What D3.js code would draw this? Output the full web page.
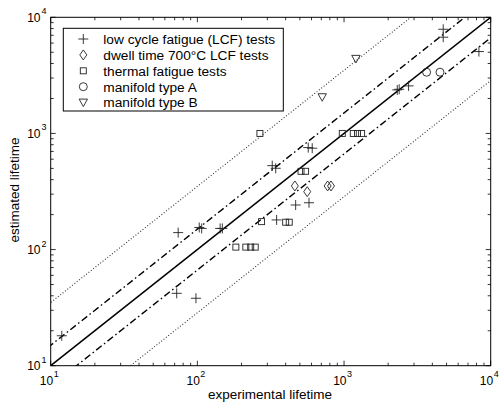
<!DOCTYPE html>
<html><head><meta charset="utf-8">
<script src="https://cdn.jsdelivr.net/npm/d3@7"></script>
<style>
body{margin:0;background:#fff;}
svg{display:block;font-family:"Liberation Sans",Arial,Helvetica,sans-serif;}
</style></head>
<body>
<svg id="chart" width="499" height="405"></svg>
<script>
// data (experimental lifetime, estimated lifetime)
const lcfExp  = [11.9, 72.3, 97.8, 74, 103, 107, 143, 148, 324, 342, 570, 607, 468, 577, 347, 2306, 2378, 2755, 4745, 4745, 8310];
const lcfEst  = [18.1, 42, 38.1, 140, 155, 152, 152, 152, 528, 501, 755, 746, 242, 253, 180, 2371, 2400, 2566, 7890, 6740, 5070];
const dwellExp = [462, 561, 773, 815];
const dwellEst = [353, 315, 353, 353];
const thermExp = [274, 183, 214, 231, 248, 267, 973, 1156, 1236, 1318, 509, 547, 400, 423];
const thermEst = [174, 105, 105, 105, 105, 1000, 1000, 1000, 1000, 1000, 472, 472, 172, 172];
const manAExp = [3656, 4510];
const manAEst = [3366, 3366];
const manBExp = [710, 1205];
const manBEst = [2050, 4385];
const legendLabels = ["low cycle fatigue (LCF) tests", "dwell time 700\u00b0C LCF tests", "thermal fatigue tests", "manifold type A", "manifold type B"];
const decadeExps = [1, 2, 3, 4];
const bandFactors = [1.5, 3.5];
const xLabel = "experimental lifetime";
const yLabel = "estimated lifetime";

const svg = d3.select("#chart");
const L = 50.7, R = 490.7, T = 17.3, B = 365.7;
const x = d3.scaleLog().domain([10, 10000]).range([L, R]);
const y = d3.scaleLog().domain([10, 10000]).range([B, T]);

const defs = svg.append("defs");
defs.append("clipPath").attr("id", "clip").append("rect")
  .attr("x", L).attr("y", T).attr("width", R - L).attr("height", B - T);

const g = svg.append("g").attr("clip-path", "url(#clip)");

// reference lines
function refLine(f, dash, w, col) {
  const d0 = 10 / Math.max(f, 1) , d1 = 10000 * Math.max(f, 1);
  g.append("line")
    .attr("x1", x(d0)).attr("y1", y(d0 * f))
    .attr("x2", x(d1)).attr("y2", y(d1 * f))
    .attr("stroke", col).attr("stroke-width", w)
    .attr("stroke-dasharray", dash).attr("fill", "none");
}
refLine(1, null, 1.5, "#000");
refLine(bandFactors[0], "7,3,1.5,3", 1.4, "#000");
refLine(1 / bandFactors[0], "7,3,1.5,3", 1.4, "#000");
refLine(bandFactors[1], "1,2", 1.1, "#333");
refLine(1 / bandFactors[1], "1,2", 1.1, "#333");

// axes box
svg.append("rect").attr("x", L).attr("y", T).attr("width", R - L).attr("height", B - T)
  .attr("fill", "none").attr("stroke", "#000").attr("stroke-width", 1);

// ticks inside on all sides
const majorLen = 5, minorLen = 3;
const tickG = svg.append("g").attr("stroke", "#000").attr("stroke-width", 0.8);
const ticks = [];
for (let e = 1; e <= 4; e++) {
  for (let m = 1; m <= 9; m++) {
    const v = m * Math.pow(10, e);
    if (v > 10000) break;
    ticks.push({v, major: m === 1});
  }
}
ticks.forEach(t => {
  const len = t.major ? majorLen : minorLen;
  const px = x(t.v), py = y(t.v);
  tickG.append("line").attr("x1", px).attr("x2", px).attr("y1", B).attr("y2", B - len);
  tickG.append("line").attr("x1", px).attr("x2", px).attr("y1", T).attr("y2", T + len);
  tickG.append("line").attr("y1", py).attr("y2", py).attr("x1", L).attr("x2", L + len);
  tickG.append("line").attr("y1", py).attr("y2", py).attr("x1", R).attr("x2", R - len);
});

// tick labels
decadeExps.forEach(e => {
  const v = Math.pow(10, e);
  const px = x(v);
  svg.append("text").attr("x", px + 2.5).attr("y", 385).attr("text-anchor", "end")
    .attr("font-size", 12).text("10");
  svg.append("text").attr("x", px + 3).attr("y", 377).attr("font-size", 9).text(e);
  const py = y(v);
  svg.append("text").attr("x", 40.5).attr("y", py + 4.5).attr("text-anchor", "end")
    .attr("font-size", 12).text("10");
  svg.append("text").attr("x", 41.5).attr("y", py - 3).attr("font-size", 9).text(e);
});

// axis labels
svg.append("text").attr("x", 270).attr("y", 399).attr("text-anchor", "middle")
  .attr("font-size", 13.5).text(xLabel);
svg.append("text").attr("transform", "translate(19,190) rotate(-90)").attr("text-anchor", "middle")
  .attr("font-size", 13.5).text(yLabel);

// markers
const stroke = "#222", sw = 0.9;
function plus(sel) {
  sel.append("path").attr("d", "M-5,0H5M0,-5V5").attr("stroke", stroke).attr("stroke-width", sw).attr("fill", "none");
}
function diamond(sel) {
  sel.append("path").attr("d", "M0,-5L3.5,0L0,5L-3.5,0Z").attr("stroke", stroke).attr("stroke-width", sw).attr("fill", "none");
}
function square(sel) {
  sel.append("rect").attr("x", -3).attr("y", -3).attr("width", 6).attr("height", 6).attr("stroke", stroke).attr("stroke-width", sw).attr("fill", "none");
}
function circle(sel) {
  sel.append("circle").attr("r", 4).attr("stroke", stroke).attr("stroke-width", sw).attr("fill", "none");
}
function tri(sel) {
  sel.append("path").attr("d", "M-4.2,-3.5H4.2L0,4Z").attr("stroke", stroke).attr("stroke-width", sw).attr("fill", "none");
}
function drawSeries(xs, ys, fn) {
  xs.forEach((xv, i) => {
    const s = svg.append("g").attr("transform", `translate(${x(xv)},${y(ys[i])})`);
    fn(s);
  });
}
drawSeries(lcfExp, lcfEst, plus);
drawSeries(dwellExp, dwellEst, diamond);
drawSeries(thermExp, thermEst, square);
drawSeries(manAExp, manAEst, circle);
drawSeries(manBExp, manBEst, tri);

// legend
const lg = svg.append("g");
lg.append("rect").attr("x", 63.3).attr("y", 28.3).attr("width", 220).attr("height", 82.7)
  .attr("fill", "#fff").attr("stroke", "#000").attr("stroke-width", 1);
const fns = [plus, diamond, square, circle, tri];
legendLabels.forEach((lab, i) => {
  const ry = 39 + i * 15.9;
  const s = lg.append("g").attr("transform", `translate(83.3,${ry})`);
  fns[i](s);
  lg.append("text").attr("x", 103.3).attr("y", ry + 4.8).attr("font-size", 13.7).text(lab);
});
</script>
</body></html>
